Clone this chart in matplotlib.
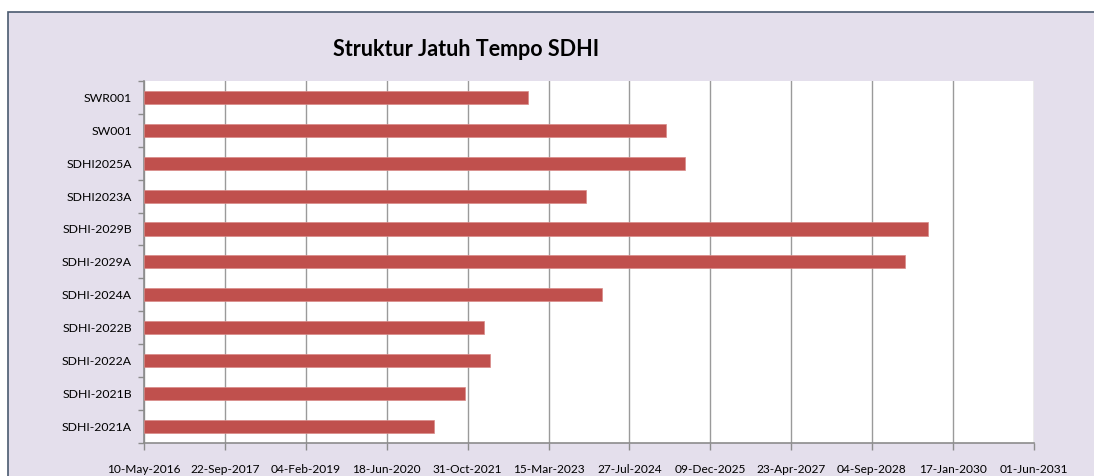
import pandas as pd
import matplotlib
matplotlib.use('Agg')
import matplotlib.pyplot as plt
import matplotlib.dates as mdates
from matplotlib.patches import Rectangle

plt.rcParams['font.family'] = ['Lato', 'DejaVu Sans']

# data seri SDHI dan tanggal jatuh tempo
seri = ['SDHI-2021A', 'SDHI-2021B', 'SDHI-2022A', 'SDHI-2022B', 'SDHI-2024A',
        'SDHI-2029A', 'SDHI-2029B', 'SDHI2023A', 'SDHI2025A', 'SW001', 'SWR001']
jatuh_tempo = ['2021-04-07', '2021-10-15', '2022-03-18', '2022-02-09', '2024-02-08',
               '2029-03-25', '2029-08-14', '2023-11-04', '2025-07-07', '2025-03-11',
               '2022-11-08']
awal = '2016-05-10'
akhir = '2031-06-01'

mulai = mdates.date2num(pd.Timestamp(awal))
selesai = mdates.date2num(pd.to_datetime(jatuh_tempo))
ticks = pd.date_range(awal, akhir, freq='500D')

fig = plt.figure(figsize=(10.94, 4.76), dpi=100)
fig.patch.set_facecolor('white')
# latar ungu muda + garis tepi
fig.patches.append(Rectangle((8.3 / 1094, -0.1), 1.2, (476 - 11.7) / 476 + 0.1,
                             transform=fig.transFigure, facecolor='#E4DFEC',
                             edgecolor='#4A5A70', linewidth=1.2, zorder=-5))

ax = fig.add_axes([144.3 / 1094, (476 - 442.7) / 476,
                   (1033.6 - 144.3) / 1094, (442.7 - 81) / 476])
ax.set_facecolor('white')
ax.barh(range(len(seri)), selesai - mulai, left=mulai, height=0.4,
        color='#C0504D', edgecolor='#D88A88', linewidth=0.5, zorder=3)

ax.set_xlim(mulai, mdates.date2num(pd.Timestamp(akhir)))
ax.set_ylim(-0.5, len(seri) - 0.5)
ax.set_xticks(mdates.date2num(ticks))
ax.set_xticklabels([t.strftime('%d-%b-%Y') for t in ticks], fontsize=8.6)
ax.set_yticks(range(len(seri)))
ax.set_yticklabels(seri, fontsize=8.8)
ax.set_yticks([i - 0.5 for i in range(len(seri) + 1)], minor=True)
ax.tick_params(axis='y', which='major', length=0, pad=9)
ax.tick_params(axis='y', which='minor', length=4, color='#8C8C8C', width=1)
ax.tick_params(axis='x', length=5, color='#8C8C8C', width=1, pad=10)
ax.grid(axis='x', color='#9A9A9A', linewidth=1, zorder=0)
for s in ['top', 'right']:
    ax.spines[s].set_visible(False)
for s in ['left', 'bottom']:
    ax.spines[s].set_color('#8C8C8C')
    ax.spines[s].set_linewidth(1.2)

fig.text(466 / 1094, (476 - 49) / 476, 'Struktur Jatuh Tempo SDHI', ha='center',
         va='center', fontsize=15.5, fontweight='bold')

fig.savefig('out.png', dpi=100)
